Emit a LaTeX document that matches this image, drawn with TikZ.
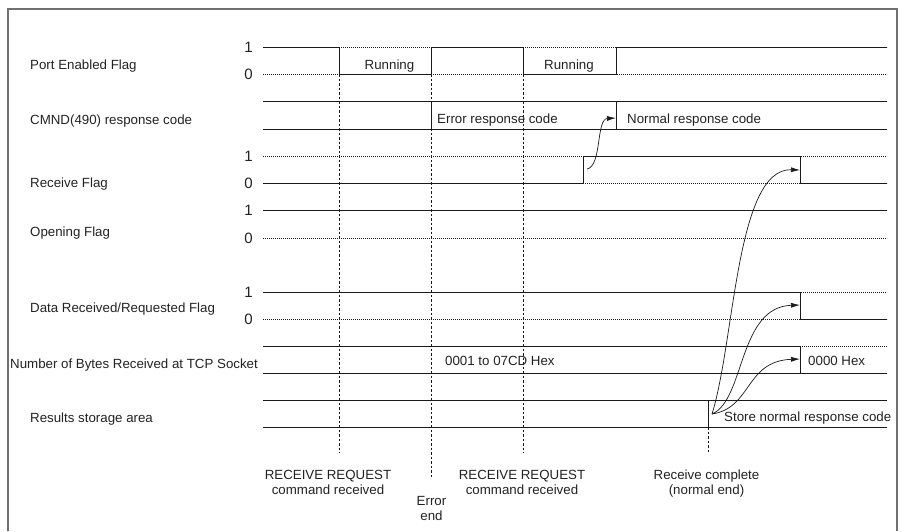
\documentclass[tikz,border=0pt]{standalone}
\usepackage{fontspec}
\setmainfont{Liberation Sans}
\usetikzlibrary{arrows.meta,positioning,calc}
\definecolor{tdline}{HTML}{1A1A1A}
\definecolor{tdframe}{HTML}{707070}
\definecolor{tdtext}{HTML}{222222}
\newcommand{\tdfont}{\fontsize{13.3}{15}\selectfont}
\tikzset{
  sig/.style={draw=tdline, line width=0.9pt},
  sigdot/.style={draw=tdline, line width=0.7pt, dash pattern=on 0.9pt off 1.1pt},
  evline/.style={draw=tdline, line width=0.7pt, dash pattern=on 2.5pt off 2pt},
  lvl/.style={font=\fontsize{15}{15}\selectfont, anchor=base east, inner sep=0pt,
              text=tdtext},
  sname/.style={font=\tdfont, anchor=base west, inner sep=0pt, text=tdtext},
  wlabel/.style={font=\tdfont, anchor=base west, inner sep=0pt, text=tdtext},
  evlabel/.style={font=\tdfont, align=center, anchor=north, inner sep=0pt,
                  text=tdtext},
  cause/.style={-{Latex[length=9pt,width=5pt]}, draw=tdline, line width=0.7pt},
}

\begin{document}
\begin{tikzpicture}[x=1pt, y=-1pt]
  \useasboundingbox (0,0) rectangle (902,531);
  \draw[tdframe, line width=1.3pt] (8,531) -- (8,9) -- (897,9) -- (897,531);

  % --- signal names ---
  \node[sname] (pename) at (30,69.5) {Port Enabled Flag};
  \node[sname] (cmname) at (30,124)  {CMND(490) response code};
  \node[sname] (rfname) at (30,187)  {Receive Flag};
  \node[sname] (opname) at (30,236)  {Opening Flag};
  \node[sname] (drname) at (30,312)  {Data Received/Requested Flag};
  \node[sname] (nbname) at (10,368)  {Number of Bytes Received at TCP Socket};
  \node[sname] (rsname) at (30,422)  {Results storage area};

  % --- 1/0 levels ---
  \node[lvl] (pe1) at (253,52.5)  {1};
  \node[lvl] (pe0) at (253,79.5)  {0};
  \node[lvl] (rf1) at (253,161.5) {1};
  \node[lvl] (rf0) at (253,188.5) {0};
  \node[lvl] (op1) at (253,215.5) {1};
  \node[lvl] (op0) at (253,243.5) {0};
  \node[lvl] (dr1) at (253,297.5) {1};
  \node[lvl] (dr0) at (253,324.5) {0};

  % --- Port Enabled Flag ---
  \draw[sigdot] (263,47) -- (887,47);
  \draw[sigdot] (263,74) -- (887,74);
  \draw[sig] (263,47) -- (339,47) -- (339,74) -- (431,74) -- (431,47) -- (523,47)
    -- (523,74) -- (616,74) -- (616,47) -- (887,47);
  \node[font=\tdfont, anchor=base, inner sep=0pt, text=tdtext] (run1) at (389.5,69.5) {Running};
  \node[font=\tdfont, anchor=base, inner sep=0pt, text=tdtext] (run2) at (569,69.5) {Running};

  % --- CMND(490) response code ---
  \draw[sig] (263,101) -- (887,101);
  \draw[sig] (263,129) -- (887,129);
  \draw[sig] (431,101) -- (431,129);
  \draw[sig] (616,101) -- (616,129);
  \node[wlabel] (errcode) at (437,123) {Error response code};
  \node[wlabel] (nrmcode) at (627,123) {Normal response code};

  % --- Receive Flag ---
  \draw[sigdot] (263,156) -- (887,156);
  \draw[sigdot] (263,183) -- (887,183);
  \draw[sig] (263,183) -- (583,183) -- (583,156) -- (800,156) -- (800,183) -- (887,183);

  % --- Opening Flag ---
  \draw[sig] (263,210) -- (887,210);
  \draw[sigdot] (263,238) -- (887,238);

  % --- Data Received/Requested Flag ---
  \draw[sigdot] (263,292) -- (887,292);
  \draw[sigdot] (263,319) -- (887,319);
  \draw[sig] (263,292) -- (800,292) -- (800,319) -- (887,319);

  % --- Number of Bytes Received ---
  \draw[sig] (263,346) -- (800,346);
  \draw[sigdot] (800,346) -- (887,346);
  \draw[sig] (263,373) -- (887,373);
  \draw[sig] (800,346) -- (800,373);
  \node[wlabel] (nbcount) at (445,365) {0001 to 07CD Hex};
  \node[wlabel] (nbzero) at (808,365) {0000 Hex};

  % --- Results storage area ---
  \draw[sig] (263,400) -- (887,400);
  \draw[sig] (263,427) -- (887,427);
  \draw[sig] (708,400) -- (708,427);
  \node[wlabel] (storenrm) at (724,421.5) {Store normal response code};

  % --- events ---
  \draw[evline] (339,74) -- (339,453);
  \draw[evline] (431,74) -- (431,478);
  \draw[evline] (523,74) -- (523,453);
  \draw[evline] (708,427) -- (708,453);
  \node[evlabel] (ev1) at (328,470) {RECEIVE REQUEST\\command received};
  \node[evlabel] (ev2) at (431.5,496) {Error\\end};
  \node[evlabel] (ev3) at (522,470) {RECEIVE REQUEST\\command received};
  \node[evlabel] (ev4) at (706.5,470) {Receive complete\\(normal end)};

  % --- cause/effect arrows ---
  \coordinate (rfrise) at (587,169);
  \coordinate (cmnrm)  at (616,118);
  \coordinate (store)  at (712,414);
  \coordinate (rffall) at (800,170);
  \coordinate (drfall) at (800,305);
  \coordinate (nbfall) at (800,359);
  \draw[cause] (rfrise) .. controls (602,166) and (596,119) .. (cmnrm);
  \draw[cause] (store) .. controls (735,340) and (736,168) .. (rffall);
  \draw[cause] (store) .. controls (745,400) and (738,307) .. (drfall);
  \draw[cause] (store) .. controls (752,408) and (745,361) .. (nbfall);
\end{tikzpicture}
\end{document}
